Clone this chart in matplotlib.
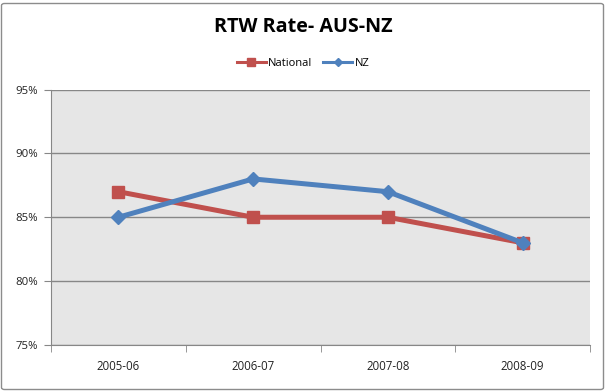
import numpy as np
import matplotlib.pyplot as plt
from matplotlib.lines import Line2D
from matplotlib.patches import FancyBboxPatch
from matplotlib.ticker import FuncFormatter

categories = ['2005-06', '2006-07', '2007-08', '2008-09']
national = [87, 85, 85, 83]
nz = [85, 88, 87, 83]

red = '#C0504D'
blue = '#4F81BD'

plt.rcParams['font.family'] = ['Open Sans', 'DejaVu Sans']

fig = plt.figure(figsize=(6.06, 3.91), dpi=100)
ax = fig.add_axes([51 / 606, 1 - 345 / 391, (590 - 51) / 606, (345 - 89.5) / 391])

ax.set_facecolor('#E6E6E6')
x = np.arange(len(categories))
ax.plot(x, national, color=red, lw=3.6, marker='s', ms=8.5, label='National', zorder=3)
ax.plot(x, nz, color=blue, lw=3.6, marker='D', ms=7.5, label='NZ', zorder=4)

ax.set_xlim(-0.5, len(categories) - 0.5)
ax.set_ylim(75, 95)
ax.set_yticks(np.arange(75, 96, 5))
ax.yaxis.set_major_formatter(FuncFormatter(lambda v, p: f'{v:.0f}%'))
ax.set_xticks(x)
ax.set_xticklabels(categories)
ax.set_xticks(np.arange(-0.5, len(categories), 1), minor=True)
ax.tick_params(axis='x', which='major', length=0, pad=11, labelsize=8.3, labelcolor='#222222')
ax.tick_params(axis='x', which='minor', length=5, color='#878787', direction='out')
ax.tick_params(axis='y', length=5, color='#878787', labelsize=8.2, pad=4, labelcolor='#222222')
ax.grid(axis='y', color='#878787', lw=1)
ax.set_axisbelow(True)
for s in ['top', 'right']:
    ax.spines[s].set_visible(False)
for s in ['left', 'bottom']:
    ax.spines[s].set_color('#878787')

fig.text(0.5, 1 - 27 / 391, 'RTW Rate- AUS-NZ', ha='center', va='center',
         fontsize=14.2, fontweight='bold')

handles = [Line2D([], [], color=red, lw=2.2, marker='s', ms=5.5),
           Line2D([], [], color=blue, lw=2.2, marker='D', ms=4.5)]
fig.legend(handles, ['National', 'NZ'], loc='center', bbox_to_anchor=(0.5, 1 - 63 / 391),
           ncol=2, frameon=False, fontsize=8, handlelength=2.6, columnspacing=1.0,
           handletextpad=0.2)

fig.patches.append(FancyBboxPatch((1.5 / 606, 1.5 / 391), 602 / 606, 386 / 391,
                                  boxstyle='round,pad=0,rounding_size=0.005',
                                  transform=fig.transFigure, fill=False,
                                  ec='#8C8C8C', lw=1))

fig.savefig('out.png', dpi=100)
